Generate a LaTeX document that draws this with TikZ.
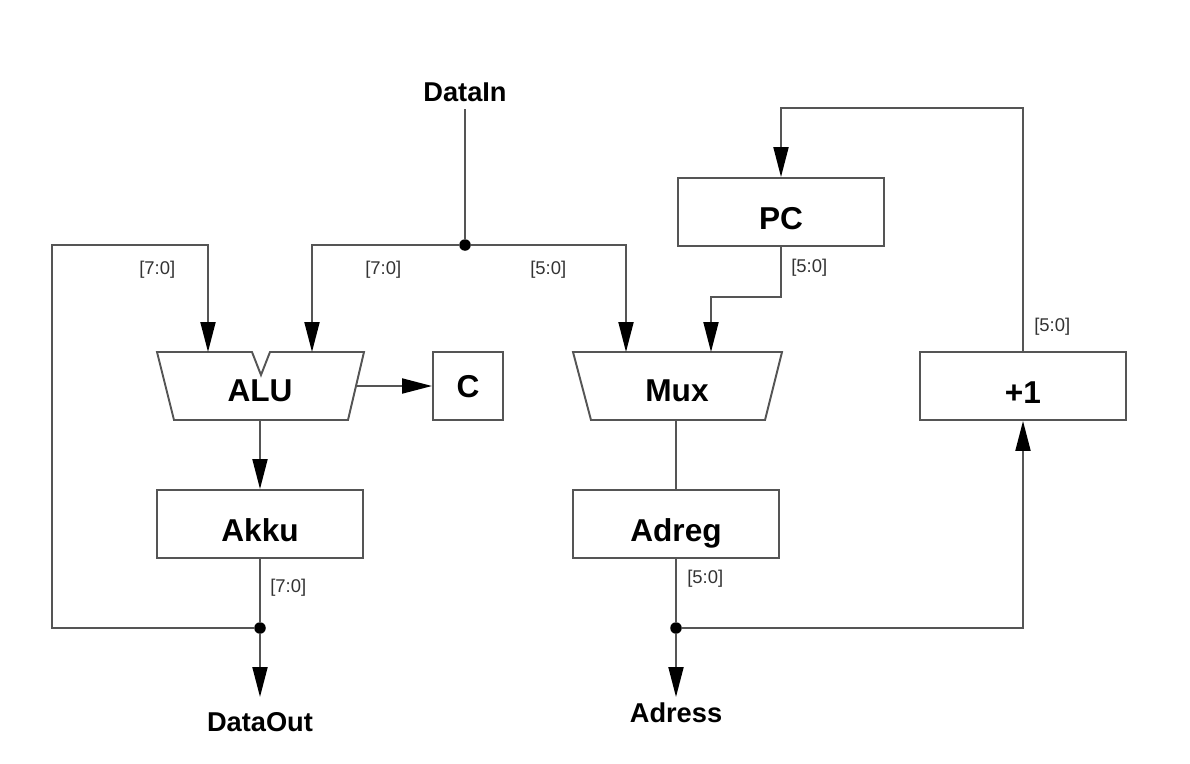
\documentclass[tikz,border=0pt]{standalone}
\usepackage{fontspec}
\setmainfont{Liberation Sans}
\usetikzlibrary{arrows.meta}
\definecolor{wirec}{HTML}{555555}
\definecolor{lblc}{HTML}{333333}
\begin{document}
\begin{tikzpicture}[x=0.02cm,y=-0.02cm,
  wire/.style={draw=wirec, line width=1.1pt},
  arr/.style={wire, -{Triangle[length=0.6cm,width=0.3cm,color=black]}},
  box/.style={draw=wirec, line width=1.1pt, minimum width=4.12cm, minimum height=1.36cm, inner sep=0pt, text height=0.69cm, text depth=0pt, font=\fontsize{18}{20}\selectfont\bfseries},
  blabel/.style={font=\fontsize{18}{20}\selectfont\bfseries, inner sep=0pt},
  io/.style={font=\fontsize{15.5}{18}\selectfont\bfseries, inner sep=0pt},
  bus/.style={font=\fontsize{10.5}{12}\selectfont, text=lblc, inner sep=0pt, anchor=west},
  dot/.style={circle, fill=black, inner sep=0pt, minimum size=0.23cm}]
\useasboundingbox (0,0) rectangle (1190,764);

% boxes
\node[box] (pc) at (781,212) {PC};
\node[box] (akku) at (260,524) {Akku};
\node[box] (adreg) at (676,524) {Adreg};
\node[box] (inc) at (1023,386) {+1};
\node[box, minimum width=1.4cm, text height=0.45cm] (c) at (468,386) {C};

% ALU trapezoid with notch
\draw[wire, line join=miter] (157,352) -- (252,352) -- (261,375) -- (270,352) -- (364,352) -- (348,420) -- (174,420) -- cycle;
\node[blabel] (alu) at (260,391) {ALU};
\coordinate (aluinA) at (208,352);
\coordinate (aluinB) at (312,352);
\coordinate (aluout) at (357,386);
\coordinate (alubot) at (260,420);

% Mux trapezoid
\draw[wire, line join=miter] (573,352) -- (782,352) -- (765,420) -- (591,420) -- cycle;
\node[blabel] (mux) at (677,391) {Mux};
\coordinate (muxinA) at (626,352);
\coordinate (muxinB) at (711,352);
\coordinate (muxbot) at (676,420);

% io labels
\node[io] (datain) at (465,92) {DataIn};
\node[io] (dataout) at (260,722) {DataOut};
\node[io] (adress) at (676,713) {Adress};
\coordinate (doutend) at (260,697);
\coordinate (adrend) at (676,697);

% junctions
\node[dot] (j1) at (465,245) {};
\node[dot] (j2) at (260,628) {};
\node[dot] (j3) at (676,628) {};

% corner coordinates
\coordinate (lloopB) at (52,628);
\coordinate (lloopT) at (52,245);
\coordinate (ptop) at (1023,108);
\coordinate (pcbend) at (781,297);

% connectors
\draw[wire] ([yshift=-0.15cm]datain.south) -- (j1);
\draw[arr] (j1) -| (aluinB);
\draw[arr] (j1) -| (muxinA);
\draw[arr] (j2) -- (lloopB) -- (lloopT) -| (aluinA);
\draw[arr] (aluout) -- (c.west);
\draw[arr] (alubot) -- (akku.north);
\draw[wire] (akku.south) -- (j2);
\draw[arr] (j2) -- (doutend);
\draw[wire] (muxbot) -- (adreg.north);
\draw[wire] (adreg.south) -- (j3);
\draw[arr] (j3) -- (adrend);
\draw[arr] (j3) -| (inc.south);
\draw[arr] (inc.north) -- (ptop) -| (pc.north);
\draw[arr] (pc.south) -- (pcbend) -| (muxinB);

% bus labels
\node[bus] (b1) at (139,270) {[7:0]};
\node[bus] (b2) at (365,270) {[7:0]};
\node[bus] (b3) at (530,270) {[5:0]};
\node[bus] (b4) at (791,268) {[5:0]};
\node[bus] (b5) at (1034,327) {[5:0]};
\node[bus] (b6) at (270,588) {[7:0]};
\node[bus] (b7) at (687,579) {[5:0]};
\end{tikzpicture}
\end{document}
